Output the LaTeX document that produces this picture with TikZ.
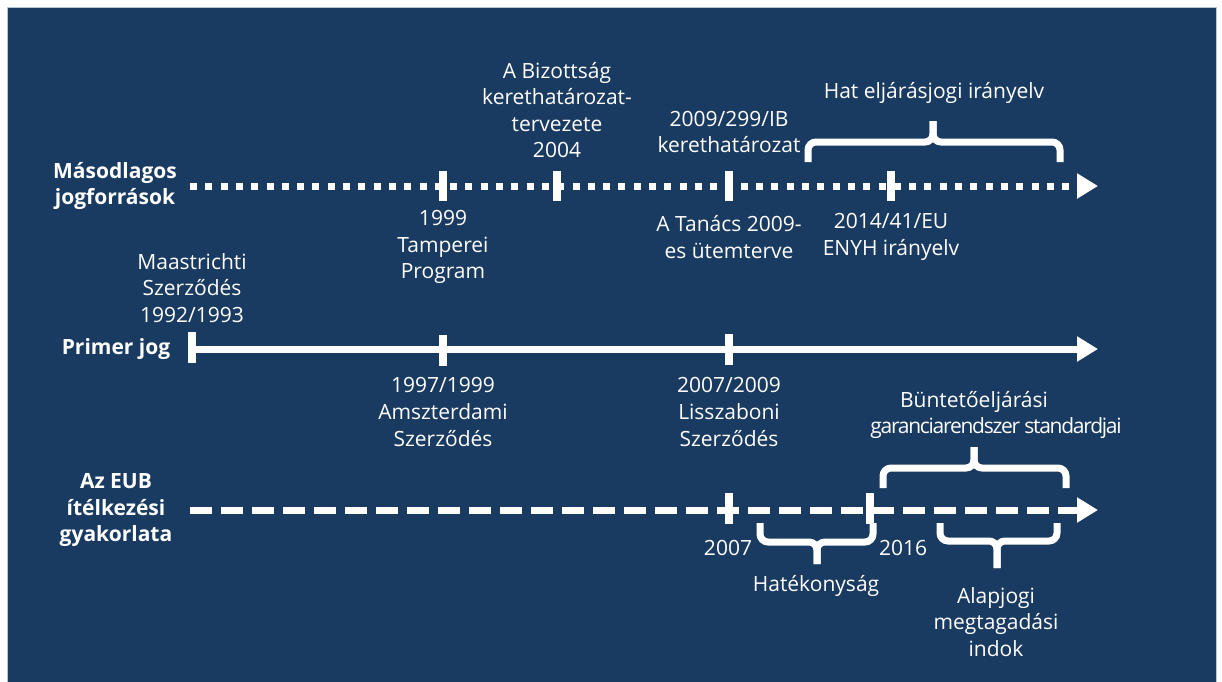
\documentclass[tikz,border=0pt]{standalone}
\usepackage{fontspec}
\setmainfont{Open Sans}
\usetikzlibrary{arrows.meta}

\definecolor{bgblue}{HTML}{1A3B61}
\definecolor{rimgray}{HTML}{B9C3D0}

\tikzset{
  axis/.style={white,line width=7pt,-{Triangle[length=21pt,width=24pt]}},
  dotaxis/.style={axis,dash pattern=on 7pt off 8.3pt},
  dashaxis/.style={axis,dash pattern=on 22pt off 9pt},
  notch/.style={white,line width=8pt},
  clamp/.style={white,line width=7pt,rounded corners=8pt},
  lbl/.style={text=white,align=center,inner sep=0pt,font=\fontsize{21}{26.6}\selectfont},
  rowlbl/.style={lbl,font=\fontsize{21}{26.6}\selectfont\bfseries}
}

\begin{document}
\begin{tikzpicture}[x=1pt,y=-1pt]
  \useasboundingbox (0,0) rectangle (1222,681);
  \fill[white] (0,0) rectangle (1222,681);
  \filldraw[fill=bgblue,draw=rimgray,line width=.8pt] (7,7) rectangle (1216,682);

  % axes
  \coordinate (s1) at (190,186);  \coordinate (e1) at (1098,186);
  \coordinate (s2) at (192,349);  \coordinate (e2) at (1098,349);
  \coordinate (s3) at (190,510);  \coordinate (e3) at (1098,510);
  \draw[dotaxis] (s1) -- (e1);
  \draw[axis] (s2) -- (e2);
  \draw[dashaxis] (s3) -- (e3);

  % ticks
  \draw[notch] (443,171) -- (443,201);
  \draw[notch] (557,171) -- (557,201);
  \draw[notch] (729,171) -- (729,201);
  \draw[notch] (891,171) -- (891,201);
  \draw[notch] (192,332) -- (192,363);
  \draw[notch] (443,335) -- (443,366);
  \draw[notch] (729,334) -- (729,365);
  \draw[notch] (729,493) -- (729,524);
  \draw[notch] (870,493) -- (870,524);

  % braces
  \draw[clamp] (808,162) -- (808,142) -- (933,142) -- (933,121);
  \draw[clamp] (1060,162) -- (1060,142) -- (933,142) -- (933,121);
  \draw[clamp] (883,488) -- (883,468) -- (974,468) -- (974,447);
  \draw[clamp] (1066,488) -- (1066,468) -- (974,468) -- (974,447);
  \draw[clamp] (760,523) -- (760,542) -- (817,542) -- (817,564);
  \draw[clamp] (873,523) -- (873,542) -- (817,542) -- (817,564);
  \draw[clamp] (940,523) -- (940,541) -- (997,541) -- (997,568);
  \draw[clamp] (1057,523) -- (1057,541) -- (997,541) -- (997,568);

  % row labels
  \node[rowlbl] (sec) at (115,186) {Másodlagos\\jogforrások};
  \node[rowlbl] (pri) at (116,349) {Primer jog};
  \node[rowlbl] (cjeu) at (116,510) {Az EUB\\ítélkezési\\gyakorlata};

  % secondary sources
  \node[lbl] (draft) at (557,110) {A Bizottság\\kerethatározat-\\tervezete\\2004};
  \node[lbl] (fd) at (729,132) {2009/299/IB\\kerethatározat};
  \node[lbl] (six) at (934,93) {Hat eljárásjogi irányelv};
  \node[lbl] (tampere) at (443,247) {1999\\Tamperei\\Program};
  \node[lbl] (roadmap) at (729,237) {A Tanács 2009-\\es ütemterve};
  \node[lbl] (eio) at (891,237) {2014/41/EU\\ENYH irányelv};

  % primary law
  \node[lbl] (maas) at (192,288) {Maastrichti\\Szerződés\\1992/1993};
  \node[lbl] (amst) at (443,412) {1997/1999\\Amszterdami\\Szerződés};
  \node[lbl] (lisb) at (729,412) {2007/2009\\Lisszaboni\\Szerződés};

  % case law
  \node[lbl] (y07) at (728,548) {2007};
  \node[lbl] (y16) at (903,548) {2016};
  \node[lbl] (stand) at (996,415) {Büntetőeljárási\hspace*{44pt}\\
    {\addfontfeature{LetterSpace=-6}garanciarendszer standardjai}};
  \node[lbl] (eff) at (816,586) {Hatékonyság};
  \node[lbl] (refuse) at (996,622) {Alapjogi\\megtagadási\\indok};
\end{tikzpicture}
\end{document}
